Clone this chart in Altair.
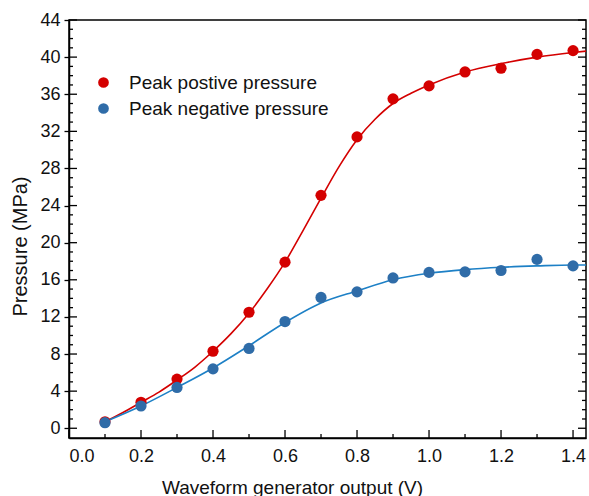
import altair as alt
import pandas as pd

# ---- data ----
volts = [0.1, 0.2, 0.3, 0.4, 0.5, 0.6, 0.7, 0.8, 0.9, 1.0, 1.1, 1.2, 1.3, 1.4]
peak_pos = [0.7, 2.8, 5.3, 8.3, 12.5, 17.9, 25.1, 31.4, 35.5, 36.9, 38.4, 38.8, 40.3, 40.7]
peak_neg = [0.6, 2.4, 4.4, 6.4, 8.6, 11.5, 14.1, 14.7, 16.2, 16.8, 16.85, 17.0, 18.2, 17.5]

# fitted curves
fit_pos_x = [0.1, 0.15, 0.2, 0.25, 0.3, 0.35, 0.4, 0.45, 0.5, 0.55, 0.6, 0.65, 0.7, 0.75,
             0.8, 0.85, 0.9, 0.95, 1.0, 1.1, 1.2, 1.3, 1.4, 1.436]
fit_pos_y = [0.7, 1.7, 2.8, 3.9, 5.2, 6.6, 8.3, 10.2, 12.4, 15.0, 17.9, 21.3, 24.8, 28.2,
             31.1, 33.3, 35.0, 36.1, 37.0, 38.4, 39.3, 40.0, 40.5, 40.65]
fit_neg_x = [0.1, 0.2, 0.3, 0.4, 0.5, 0.6, 0.7, 0.8, 0.9, 1.0, 1.1, 1.2, 1.3, 1.4, 1.436]
fit_neg_y = [0.7, 2.4, 4.4, 6.5, 8.9, 11.4, 13.5, 14.8, 16.0, 16.7, 17.1, 17.35, 17.5, 17.6, 17.6]

series_names = ["Peak postive pressure", "Peak negative pressure"]
x_major = [0.0, 0.2, 0.4, 0.6, 0.8, 1.0, 1.2, 1.4]
x_minor = [0.1, 0.3, 0.5, 0.7, 0.9, 1.1, 1.3]
y_major = [0, 4, 8, 12, 16, 20, 24, 28, 32, 36, 40, 44]
y_minor = [v for v in range(1, 44) if v % 4 != 0]

RED = "#d40000"
BLUE_PT = "#2f6ca8"
BLUE_LN = "#1d80c6"
FONT = "Liberation Sans"
W, H = 517, 418

pts = pd.DataFrame({
    "x": volts * 2,
    "y": peak_pos + peak_neg,
    "series": [series_names[0]] * len(volts) + [series_names[1]] * len(volts),
})
fpos = pd.DataFrame({"x": fit_pos_x, "y": fit_pos_y})
fneg = pd.DataFrame({"x": fit_neg_x, "y": fit_neg_y})

xs = alt.Scale(domain=[0, 1.436], nice=False, zero=False)
ys = alt.Scale(domain=[-1.05, 44], nice=False, zero=False)

x_axis = alt.Axis(values=x_major, format=".1f", tickSize=0, labelPadding=9, grid=False,
                  labelOverlap=False, title="Waveform generator output (V)",
                  titleX=223, titleY=55, titleAlign="center", titleBaseline="alphabetic",
                  titleFontSize=19)
y_axis = alt.Axis(values=y_major, format="d", tickSize=5, labelPadding=4, grid=False,
                  labelOverlap=False, title="Pressure (MPa)", titlePadding=9,
                  titleY=226, titleFontSize=20)

line_pos = alt.Chart(fpos).mark_line(color=RED, strokeWidth=1.6, interpolate="monotone", clip=True).encode(
    x=alt.X("x:Q", scale=xs, axis=x_axis),
    y=alt.Y("y:Q", scale=ys, axis=y_axis),
)
line_neg = alt.Chart(fneg).mark_line(color=BLUE_LN, strokeWidth=1.6, interpolate="monotone", clip=True).encode(
    x=alt.X("x:Q", scale=xs, axis=x_axis),
    y=alt.Y("y:Q", scale=ys, axis=y_axis),
)
points = alt.Chart(pts).mark_circle(size=125, opacity=1).encode(
    x=alt.X("x:Q", scale=xs, axis=x_axis),
    y=alt.Y("y:Q", scale=ys, axis=y_axis),
    color=alt.Color("series:N",
                    scale=alt.Scale(domain=series_names, range=[RED, BLUE_PT]),
                    sort=series_names,
                    legend=alt.Legend(orient="none", legendX=25, legendY=53, title=None,
                                      labelFontSize=19, labelFont=FONT, labelColor="#111",
                                      labelLimit=0,
                                      symbolType="circle", symbolSize=115, symbolStrokeWidth=0,
                                      symbolOpacity=1, rowPadding=6, labelOffset=16, padding=0)),
)

tx_major = pd.DataFrame({"v": x_major})
tx_minor = pd.DataFrame({"v": x_minor})
ty_major = pd.DataFrame({"v": y_major})
ty_minor = pd.DataFrame({"v": y_minor})

def xticks(df, length):
    return alt.Chart(df).mark_tick(color="black", thickness=1.3, size=length,
                                   orient="vertical", opacity=1).encode(
        x=alt.X("v:Q", scale=xs, axis=x_axis), y=alt.value(H - length / 2))

def yticks(df, length, right=False):
    xc = W - length / 2 if right else length / 2
    return alt.Chart(df).mark_tick(color="black", thickness=1.3, size=length,
                                   orient="horizontal", opacity=1).encode(
        y=alt.Y("v:Q", scale=ys, axis=y_axis), x=alt.value(xc))

chart = alt.layer(
    line_pos, line_neg, points,
    xticks(tx_major, 8), xticks(tx_minor, 4),
    yticks(ty_major, 8), yticks(ty_minor, 4),
    yticks(ty_major, 8, True), yticks(ty_minor, 4, True),
).properties(
    width=W, height=H,
    autosize=alt.AutoSizeParams(type="none"),
    padding={"left": 69, "top": 20, "right": 3, "bottom": 58},
    background="white",
).configure_view(
    stroke="black", strokeWidth=1.5
).configure_axis(
    labelFont=FONT, titleFont=FONT, labelFontSize=18,
    labelColor="#111", titleColor="#111", titleFontWeight="normal", labelOverlap=False,
    domainColor="black", domainWidth=1.5, tickColor="black", tickWidth=1.3,
)

chart.save("out.html", embed_options={"renderer": "svg", "actions": False})
